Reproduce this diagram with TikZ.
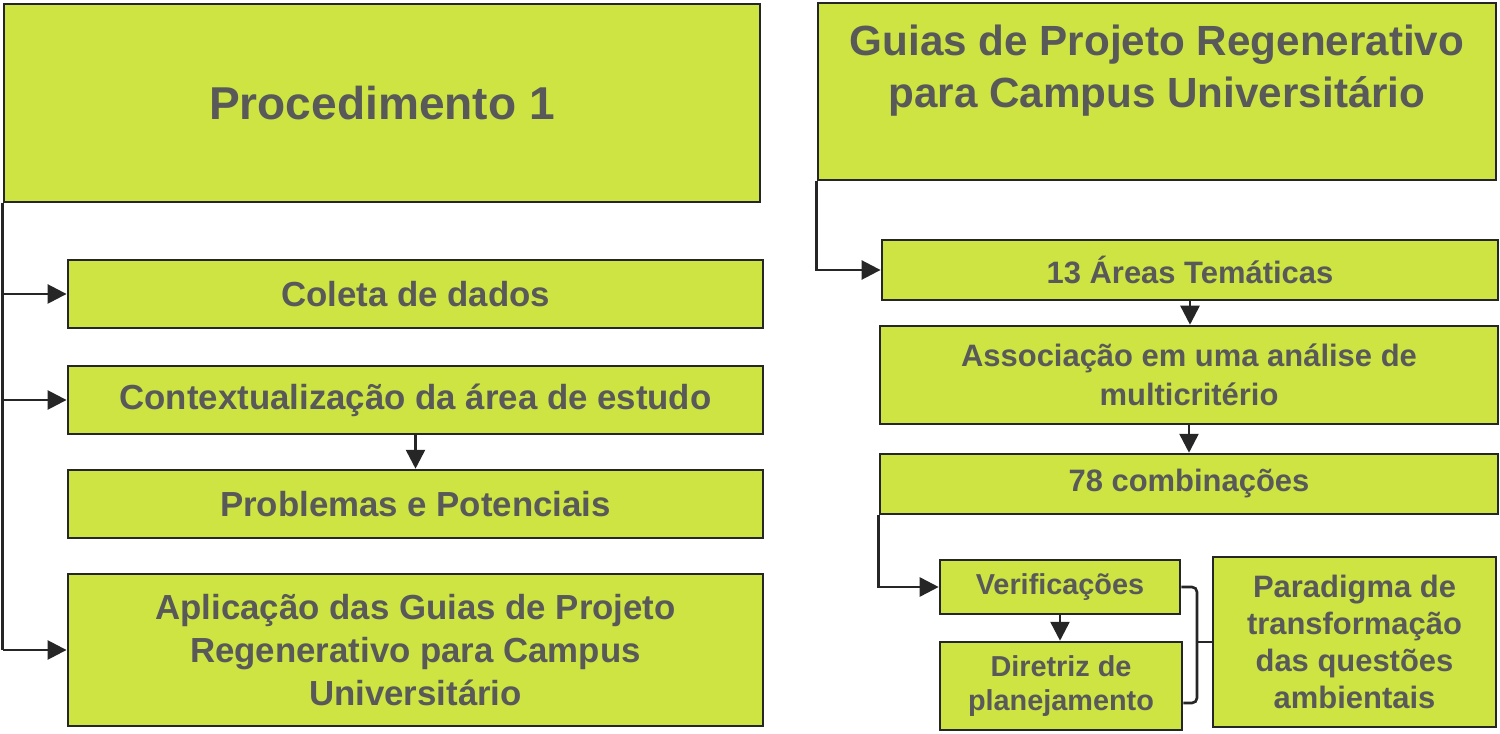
\documentclass[tikz,border=0pt]{standalone}
\usepackage{fontspec}
\setmainfont{Liberation Sans}
\usepackage{xcolor}
\usepackage{tikz}
\usetikzlibrary{arrows.meta}
\definecolor{boxgreen}{HTML}{CDE443}
\definecolor{textgray}{HTML}{595959}
\definecolor{linedark}{HTML}{262626}
\tikzset{ step_box/.style = {rectangle, draw=linedark, line width=0.7pt, fill=boxgreen, text=textgray, align=center, inner sep=0pt} }
\tikzset{ title_txt/.style = {font=\bfseries\fontsize{13.1}{15}\selectfont} }
\tikzset{ head_txt/.style = {font=\bfseries\fontsize{12}{14.8}\selectfont} }
\tikzset{ left_txt/.style = {font=\bfseries\fontsize{9.9}{12.2}\selectfont} }
\tikzset{ right_txt/.style = {font=\bfseries\fontsize{8.8}{11}\selectfont} }
\tikzset{ para_txt/.style = {font=\bfseries\fontsize{8.8}{10.5}\selectfont} }
\tikzset{ small_txt/.style = {font=\bfseries\fontsize{8.2}{9.7}\selectfont} }
\tikzset{ link/.style = {draw=linedark, line width=0.75pt} }
\tikzset{ link_arrow/.style = {link, -{Triangle[length=5.4pt,width=5.4pt]}} }

\begin{document}
\begin{tikzpicture}[x=0.01cm, y=-0.01cm]
\useasboundingbox (0,0) rectangle (1500,734);
% left column
\node[step_box, title_txt, minimum width=7.56cm, minimum height=1.98cm] (proc) at (382,103) {Procedimento 1};
\node[step_box, left_txt, minimum width=6.95cm, minimum height=0.68cm] (coleta) at (415.5,294) {Coleta de dados};
\node[step_box, left_txt, minimum width=6.95cm, minimum height=0.68cm] (contexto) at (415.5,400) {Contextualização da área de estudo};
\node[step_box, left_txt, minimum width=6.95cm, minimum height=0.68cm] (problemas) at (415.5,504) {Problemas e Potenciais};
\node[step_box, left_txt, minimum width=6.95cm, minimum height=1.52cm] (aplicacao) at (415.5,650) {Aplicação das Guias de Projeto\\Regenerativo para Campus\\Universitário};
% right column
\node[step_box, head_txt, minimum width=6.78cm, minimum height=1.77cm] (guias) at (1157,91.5) {\parbox[c][1.77cm][t]{6.7cm}{\centering\vspace*{0.22cm}Guias de Projeto Regenerativo\\para Campus Universitário}};
\node[step_box, right_txt, minimum width=6.16cm, minimum height=0.6cm] (areas) at (1190,270) {13 Áreas Temáticas};
\node[step_box, right_txt, minimum width=6.18cm, minimum height=0.98cm] (associacao) at (1189,375) {Associação em uma análise de\\multicritério};
\node[step_box, right_txt, minimum width=6.18cm, minimum height=0.6cm] (combinacoes) at (1189,484) {78 combinações};
\node[step_box, small_txt, minimum width=2.4cm, minimum height=0.54cm] (verif) at (1060,587) {Verificações};
\node[step_box, small_txt, minimum width=2.42cm, minimum height=0.88cm] (diretriz) at (1061,686) {Diretriz de\\planejamento};
\node[step_box, para_txt, minimum width=2.83cm, minimum height=1.7cm] (paradigma) at (1354.5,642) {Paradigma de\\transformação\\das questões\\ambientais};
\coordinate (brace_top) at (1197,587);
\coordinate (brace_bot) at (1197,703);
% connectors
\draw[link] (proc.south west) -- (proc.south west |- aplicacao.west);
\draw[link_arrow] (proc.south west |- coleta.west) -- (coleta.west);
\draw[link_arrow] (proc.south west |- contexto.west) -- (contexto.west);
\draw[link_arrow] (proc.south west |- aplicacao.west) -- (aplicacao.west);
\draw[link_arrow] (contexto.south) -- (problemas.north);
\draw[link_arrow] (guias.south west) |- (areas.west);
\draw[link_arrow] (areas.south) -- (areas.south |- associacao.north);
\draw[link_arrow] (associacao.south) -- (combinacoes.north);
\draw[link_arrow] (combinacoes.south west) |- (verif.west);
\draw[link_arrow] (verif.south) -- (verif.south |- diretriz.north);
\draw[link, rounded corners=0.05cm] (verif.east) -- (brace_top) -- (brace_bot) -- (diretriz.east |- brace_bot);
\draw[link] (brace_top |- paradigma.west) -- (paradigma.west);
\end{tikzpicture}
\end{document}
